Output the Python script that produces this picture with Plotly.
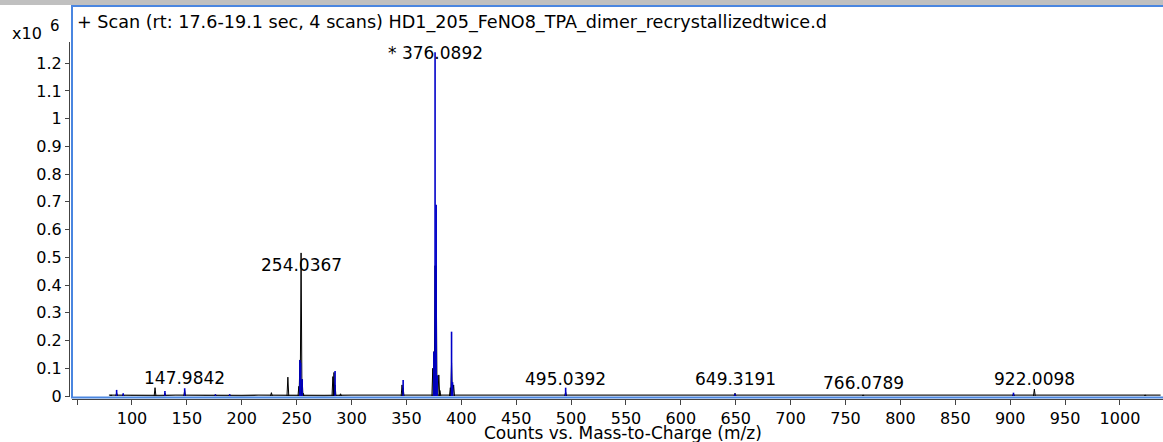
import plotly.graph_objects as go

# ---- spectrum data (intensity in units of 10^6 counts) ----
profile_mz = [81.0, 86.0, 92.0, 121.0, 130.0, 148.0, 176.0, 189.0, 227.0, 242.0,
              252.0, 253.0, 254.0367, 255.0, 256.0, 283.0, 284.0, 285.0, 290.0,
              346.0, 347.0, 374.0, 375.0, 376.0892, 377.09, 379.5, 380.5, 390.0,
              391.1, 393.0, 495.0392, 649.3191, 766.0789, 903.0, 922.0098, 1023.0]
profile_int = [0.004, 0.012, 0.006, 0.030, 0.010, 0.020, 0.005, 0.005, 0.012, 0.068,
               0.035, 0.130, 0.516, 0.060, 0.010, 0.070, 0.085, 0.040, 0.008,
               0.040, 0.030, 0.100, 0.160, 0.470, 0.470, 0.076, 0.020, 0.030,
               0.120, 0.040, 0.015, 0.010, 0.004, 0.008, 0.025, 0.004]

centroid_mz = [86.0, 92.0, 130.0, 148.0, 176.0, 189.0, 253.0, 253.6, 255.0, 285.0,
               347.0, 375.0, 376.0892, 377.09, 378.0, 391.1, 392.0, 495.0392,
               649.3191, 903.0]
centroid_int = [0.022, 0.010, 0.018, 0.028, 0.006, 0.006, 0.130, 0.120, 0.060, 0.090,
                0.058, 0.160, 1.240, 0.690, 0.075, 0.232, 0.050, 0.030,
                0.008, 0.012]

baseline_mz = [79, 95, 110, 125, 140, 160, 180, 200, 215, 235, 260, 275, 300, 320,
               340, 360, 400, 420, 440, 460, 480, 510, 530, 550, 570, 590, 610,
               630, 660, 680, 700, 720, 740, 760, 780, 800, 820, 840, 860, 880,
               900, 940, 960, 980, 1000, 1020, 1037]
baseline_int = [0.003, 0.002, 0.003, 0.002, 0.003, 0.002, 0.003, 0.002, 0.003, 0.002,
                0.003, 0.002, 0.003, 0.002, 0.003, 0.003, 0.003, 0.002, 0.003, 0.002,
                0.003, 0.002, 0.003, 0.002, 0.003, 0.002, 0.003, 0.002, 0.003, 0.002,
                0.003, 0.002, 0.003, 0.002, 0.003, 0.002, 0.003, 0.002, 0.003, 0.002,
                0.003, 0.002, 0.003, 0.002, 0.003, 0.002, 0.003]

label_mz = [147.9842, 254.0367, 376.0892, 495.0392, 649.3191, 766.0789, 922.0098]
label_int = [0.028, 0.516, 1.240, 0.030, 0.010, 0.004, 0.025]
label_text = ["147.9842", "254.0367", "* 376.0892", "495.0392", "649.3191",
              "766.0789", "922.0098"]
label_lift = [10, -12, -1, 9, 14, 12, 10]

x_ticks = list(range(50, 1001, 50))
x_tick_text = ["" if v == 50 else str(v) for v in x_ticks]
y_ticks = [0, 0.1, 0.2, 0.3, 0.4, 0.5, 0.6, 0.7, 0.8, 0.9, 1.0, 1.1, 1.2]
y_tick_text = ["0", "0.1", "0.2", "0.3", "0.4", "0.5", "0.6", "0.7", "0.8", "0.9",
               "1", "1.1", "1.2"]

title_text = "+ Scan (rt: 17.6-19.1 sec, 4 scans) HD1_205_FeNO8_TPA_dimer_recrystallizedtwice.d"

FONT = "DejaVu Sans, sans-serif"
W, H = 1163, 442
ML, MT, MB = 69, 42, 43
PW, PH = W - ML, H - MT - MB


def px_x(p):
    return (p - ML) / PW


def px_y(p):
    return (H - MB - p) / PH


def wedges(mz, inten, half):
    xs, ys = [], []
    for m, h in zip(mz, inten):
        xs += [m - half, m, m + half, None]
        ys += [0, h, 0, None]
    return xs, ys


def sticks(mz, inten):
    xs, ys = [], []
    for m, h in zip(mz, inten):
        xs += [m, m, None]
        ys += [0, h, None]
    return xs, ys


fig = go.Figure()

fig.add_trace(go.Scatter(x=baseline_mz, y=baseline_int, mode="lines",
                         line=dict(color="#202020", width=1.4),
                         hoverinfo="skip", showlegend=False))

px_, py_ = wedges(profile_mz, profile_int, 0.8)
fig.add_trace(go.Scatter(x=px_, y=py_, mode="lines",
                         line=dict(color="#000000", width=1),
                         hoverinfo="skip", showlegend=False))

cx_, cy_ = sticks(centroid_mz, centroid_int)
fig.add_trace(go.Scatter(x=cx_, y=cy_, mode="lines",
                         line=dict(color="#0000c8", width=1.6),
                         hoverinfo="skip", showlegend=False))

annotations = []
for m, h, t, lift in zip(label_mz, label_int, label_text, label_lift):
    annotations.append(dict(x=m, y=h, xref="x", yref="y", text=t, showarrow=False,
                            xanchor="center", yanchor="middle", yshift=lift,
                            font=dict(family=FONT, size=17, color="black")))

annotations.append(dict(x=px_x(75), y=px_y(23), xref="paper", yref="paper",
                        text=title_text, showarrow=False, xanchor="left",
                        yanchor="middle",
                        font=dict(family=FONT, size=17.6, color="black")))
# axis multiplier "x10^6"
annotations.append(dict(x=px_x(44), y=px_y(33), xref="paper", yref="paper",
                        text="x10", showarrow=False, xanchor="right",
                        yanchor="middle",
                        font=dict(family=FONT, size=16, color="black")))
annotations.append(dict(x=px_x(48), y=px_y(26), xref="paper", yref="paper",
                        text="6", showarrow=False, xanchor="left",
                        yanchor="middle",
                        font=dict(family=FONT, size=15, color="black")))
annotations.append(dict(x=px_x(623), y=px_y(433), xref="paper", yref="paper",
                        text="Counts vs. Mass-to-Charge (m/z)", showarrow=False,
                        xanchor="center", yanchor="middle",
                        font=dict(family=FONT, size=17, color="black")))

shapes = [
    # grey header strip
    dict(type="rect", xref="paper", yref="paper", x0=px_x(0) - 0.01, x1=1.02,
         y0=px_y(5), y1=px_y(-2), fillcolor="#c0c0c0", line=dict(width=0),
         layer="above"),
    # blue plot frame
    dict(type="rect", xref="paper", yref="paper", x0=px_x(72), x1=1.02,
         y0=px_y(397.5), y1=px_y(6), line=dict(color="#4a86e0", width=2),
         fillcolor="rgba(0,0,0,0)", layer="above"),
]

fig.update_layout(
    width=W, height=H,
    margin=dict(l=ML, r=0, t=MT, b=MB, pad=0),
    paper_bgcolor="white", plot_bgcolor="white",
    font=dict(family=FONT, size=16, color="black"),
    xaxis=dict(domain=[3 / PW, 1], range=[45.35, 1039.2], anchor="free",
               position=0, tickmode="array", tickvals=x_ticks,
               ticktext=x_tick_text, ticks="outside", ticklen=5, tickwidth=1,
               tickcolor="#444", showline=True, linecolor="#444", linewidth=1,
               showgrid=False, zeroline=False,
               tickfont=dict(family=FONT, size=16, color="black")),
    yaxis=dict(domain=[2 / PH, 1], range=[-0.0036, 1.2766], anchor="free",
               position=0, tickmode="array", tickvals=y_ticks,
               ticktext=y_tick_text, ticks="outside", ticklen=4, tickwidth=1,
               tickcolor="#444", showline=True, linecolor="#444", linewidth=1,
               showgrid=False, zeroline=False,
               tickfont=dict(family=FONT, size=16, color="black")),
    annotations=annotations,
    shapes=shapes,
)

fig.write_html("out.html")
